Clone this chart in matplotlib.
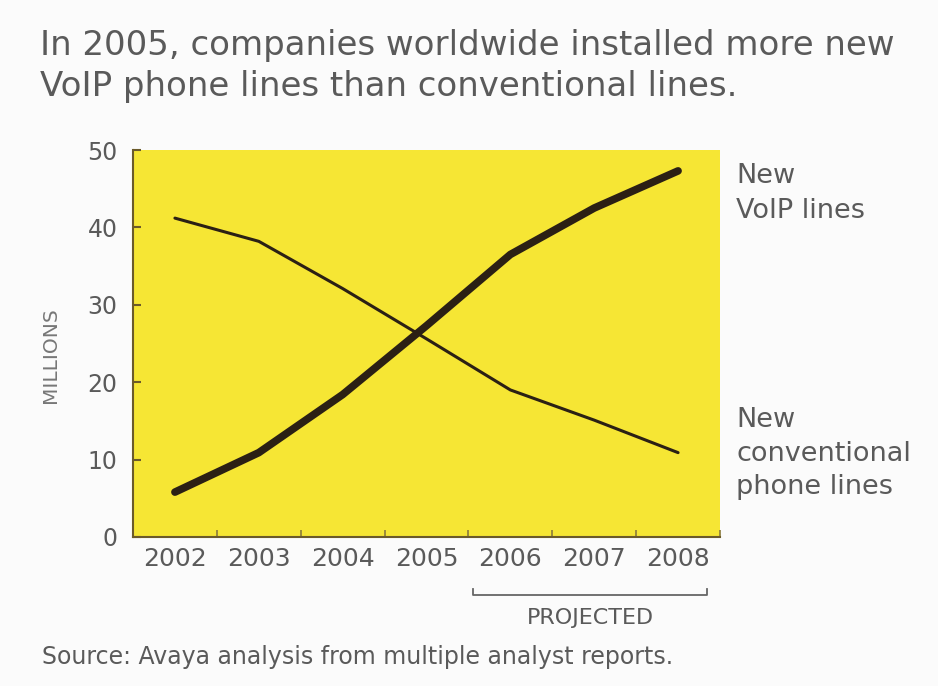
import matplotlib.pyplot as plt
from matplotlib.ticker import FixedLocator

years = [2002, 2003, 2004, 2005, 2006, 2007, 2008]
voip_lines = [5.8, 10.9, 18.4, 27.3, 36.5, 42.5, 47.3]
conventional_lines = [41.2, 38.2, 32.1, 25.6, 19.0, 15.1, 10.9]
y_ticks = [0, 10, 20, 30, 40, 50]

title_lines = ["In 2005, companies worldwide installed more new",
               "VoIP phone lines than conventional lines."]
voip_label = ["New", "VoIP lines"]
conv_label = ["New", "conventional", "phone lines"]

TEXT = "#5a5a5a"
INK = "#2b2014"
YELLOW = "#F6E634"
AXIS = "#6b5a2a"

W, H = 938, 686
plt.rcParams["font.family"] = ["DejaVu Sans"]

fig = plt.figure(figsize=(W / 100, H / 100), dpi=100)
fig.patch.set_facecolor("#fbfbfb")
ax = fig.add_axes([133 / W, 1 - 537 / H, 587 / W, 387 / H])
ax.set_facecolor(YELLOW)

ax.plot(years, voip_lines, color=INK, lw=5.5, solid_capstyle="round", solid_joinstyle="round")
ax.plot(years, conventional_lines, color=INK, lw=2.2, solid_capstyle="round")

ax.set_xlim(2001.5, 2008.5)
ax.set_ylim(0, 50)
ax.set_xticks(years)
ax.set_xticklabels([str(y) for y in years])
ax.xaxis.set_minor_locator(FixedLocator([y + 0.5 for y in years]))
ax.set_yticks(y_ticks)

for s in ["top", "right"]:
    ax.spines[s].set_visible(False)
for s in ["left", "bottom"]:
    ax.spines[s].set_color(AXIS)
    ax.spines[s].set_linewidth(1.5)

ax.tick_params(axis="y", direction="in", length=6, width=1.5, color=AXIS,
               labelsize=17, labelcolor=TEXT, pad=11)
ax.tick_params(axis="x", which="major", length=0, labelsize=18, labelcolor=TEXT, pad=7)
ax.tick_params(axis="x", which="minor", direction="in", length=5, width=1.2, color="#8a7a3a")

fig.text(51 / W, 1 - 355 / H, "MILLIONS", rotation=90, fontsize=14.5, color="#777777",
         ha="center", va="center")


def put_lines(x, baselines, lines, size):
    for yb, s in zip(baselines, lines):
        fig.text(x / W, 1 - yb / H, s, fontsize=size, color=TEXT, ha="left", va="baseline")


put_lines(40, [55, 96], title_lines, 24.5)
put_lines(736, [183, 218], voip_label, 19.5)
put_lines(736, [427, 461, 494], conv_label, 19.5)

# projected bracket
bx0, bx1 = 2005.55, 2008.35
ax.plot([bx0, bx0, bx1, bx1], [-6.7, -7.5, -7.5, -6.7], color="#666666", lw=1.3,
        clip_on=False)
fig.text(590 / W, 1 - 624 / H, "PROJECTED", fontsize=16, color=TEXT, ha="center",
         va="baseline")

fig.text(42 / W, 1 - 664 / H, "Source: Avaya analysis from multiple analyst reports.",
         fontsize=17, color=TEXT, ha="left", va="baseline")

fig.savefig("out.png", dpi=100, facecolor=fig.get_facecolor())
